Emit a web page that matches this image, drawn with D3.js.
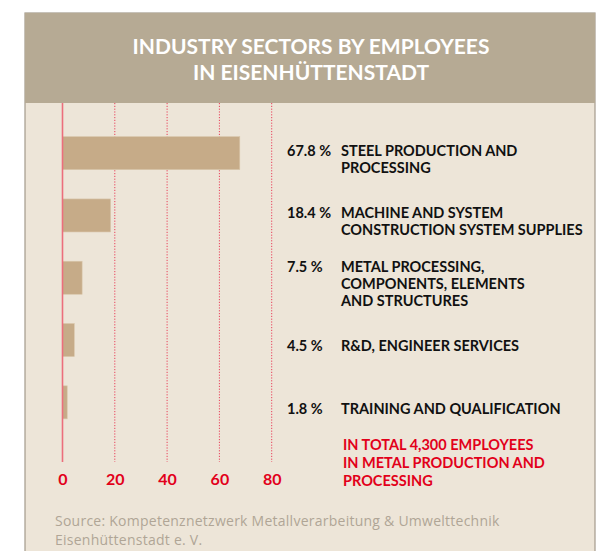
<!DOCTYPE html>
<html>
<head>
<meta charset="utf-8">
<script src="https://cdn.jsdelivr.net/npm/d3@7"></script>
<style>
  body { margin: 0; background: #fff; }
  svg { display: block; }
</style>
</head>
<body>
<script>
// data
var sectors = [
    ["STEEL PRODUCTION AND", "PROCESSING"],
    ["MACHINE AND SYSTEM", "CONSTRUCTION SYSTEM SUPPLIES"],
    ["METAL PROCESSING,", "COMPONENTS, ELEMENTS", "AND STRUCTURES"],
    ["R&D, ENGINEER SERVICES"],
    ["TRAINING AND QUALIFICATION"]
];
var shares = [67.8, 18.4, 7.5, 4.5, 1.8];
var shareLabels = ["67.8 %", "18.4 %", "7.5 %", "4.5 %", "1.8 %"];
var ticks = [0, 20, 40, 60, 80];
var titleLines = ["INDUSTRY SECTORS BY EMPLOYEES", "IN EISENHÜTTENSTADT"];
var noteLines = ["IN TOTAL 4,300 EMPLOYEES", "IN METAL PRODUCTION AND", "PROCESSING"];
var sourceLines = ["Source: Kompetenznetzwerk Metallverarbeitung & Umwelttechnik", "Eisenhüttenstadt e. V."];

var width = 600, height = 551;
var red = "#e2001a";
var font = "Lato, 'DejaVu Sans', sans-serif";

var svg = d3.select("body").append("svg")
    .attr("width", width)
    .attr("height", height);

// panel + title band
svg.append("rect")
    .attr("x", 25).attr("y", 13)
    .attr("width", 570).attr("height", 560)
    .attr("fill", "#ede5d8")
    .attr("stroke", "#a39a8c").attr("stroke-width", 1.2);

svg.append("rect")
    .attr("x", 25).attr("y", 13)
    .attr("width", 570).attr("height", 90)
    .attr("fill", "#b6aa94");

svg.append("text")
    .attr("x", 311).attr("y", 54)
    .attr("text-anchor", "middle")
    .attr("fill", "#fff")
    .style("font-family", font).style("font-weight", 700).style("font-size", "21px")
    .selectAll("tspan")
    .data(titleLines)
    .enter()
    .append("tspan")
    .attr("x", 311)
    .attr("dy", function (d, i) { return i === 0 ? 0 : 26; })
    .text(function (d) { return d; });

// scales
var x = d3.scaleLinear().domain([0, 80]).range([62.5, 271.7]);
var y = d3.scaleBand().domain(d3.range(shares.length)).range([122, 433.5]).paddingInner(0.47).paddingOuter(0.235);

var gridTop = 103, gridBottom = 462;

// dotted gridlines
svg.selectAll("line.grid")
    .data(ticks.slice(1))
    .enter()
    .append("line")
    .attr("class", "grid")
    .attr("x1", function (d) { return x(d); })
    .attr("x2", function (d) { return x(d); })
    .attr("y1", gridTop).attr("y2", gridBottom)
    .attr("stroke", "#e8405a")
    .attr("stroke-width", 1)
    .attr("stroke-dasharray", "1.2,1.6");

// bars
svg.selectAll("rect.bar")
    .data(shares)
    .enter()
    .append("rect")
    .attr("class", "bar")
    .attr("x", x(0))
    .attr("y", function (d, i) { return y(i); })
    .attr("width", function (d) { return x(d) - x(0); })
    .attr("height", y.bandwidth())
    .attr("fill", "#c6ab88")
    .attr("stroke", "#d9c6aa").attr("stroke-width", 0.6);

// zero line
svg.append("line")
    .attr("x1", x(0)).attr("x2", x(0))
    .attr("y1", gridTop).attr("y2", gridBottom)
    .attr("stroke", "#ec6e7c")
    .attr("stroke-width", 1.6);

// x axis tick labels
var axis = d3.axisBottom(x).tickValues(ticks).tickSize(0).tickPadding(0);
var gx = svg.append("g")
    .attr("transform", "translate(0," + 474 + ")")
    .call(axis);
gx.select(".domain").remove();
gx.selectAll("text")
    .attr("fill", red)
    .style("font-family", font).style("font-weight", 700).style("font-size", "16px");

// labels: block centred 6px below bar centre
var lineH = 17;
var labels = svg.selectAll("g.label")
    .data(sectors)
    .enter()
    .append("g")
    .attr("class", "label")
    .attr("transform", function (d, i) {
        var c = y(i) + y.bandwidth() / 2 + 6;
        var first = c - (d.length - 1) * lineH / 2 + 5.2;
        return "translate(0," + first + ")";
    });

labels.append("text")
    .attr("x", 287)
    .attr("fill", "#111")
    .style("font-family", font).style("font-weight", 700).style("font-size", "14.5px")
    .text(function (d, i) { return shareLabels[i]; });

labels.append("text")
    .attr("x", 341)
    .attr("fill", "#111")
    .style("font-family", font).style("font-weight", 700).style("font-size", "14.5px")
    .selectAll("tspan")
    .data(function (d) { return d; })
    .enter()
    .append("tspan")
    .attr("x", 341)
    .attr("dy", function (d, i) { return i === 0 ? 0 : lineH; })
    .text(function (d) { return d; });

// total note
svg.append("text")
    .attr("x", 343).attr("y", 450)
    .attr("fill", red)
    .style("font-family", font).style("font-weight", 700).style("font-size", "14.5px")
    .selectAll("tspan")
    .data(noteLines)
    .enter()
    .append("tspan")
    .attr("x", 343)
    .attr("dy", function (d, i) { return i === 0 ? 0 : 18; })
    .text(function (d) { return d; });

// source, one text per line
svg.selectAll("text.source")
    .data(sourceLines)
    .enter()
    .append("text")
    .attr("class", "source")
    .attr("x", 55)
    .attr("y", function (d, i) { return 526 + i * 19; })
    .attr("fill", "#b0a596")
    .style("font-family", "'Open Sans', sans-serif").style("font-size", "14px")
    .style("letter-spacing", "0.25px")
    .text(function (d) { return d; });
</script>
</body>
</html>
